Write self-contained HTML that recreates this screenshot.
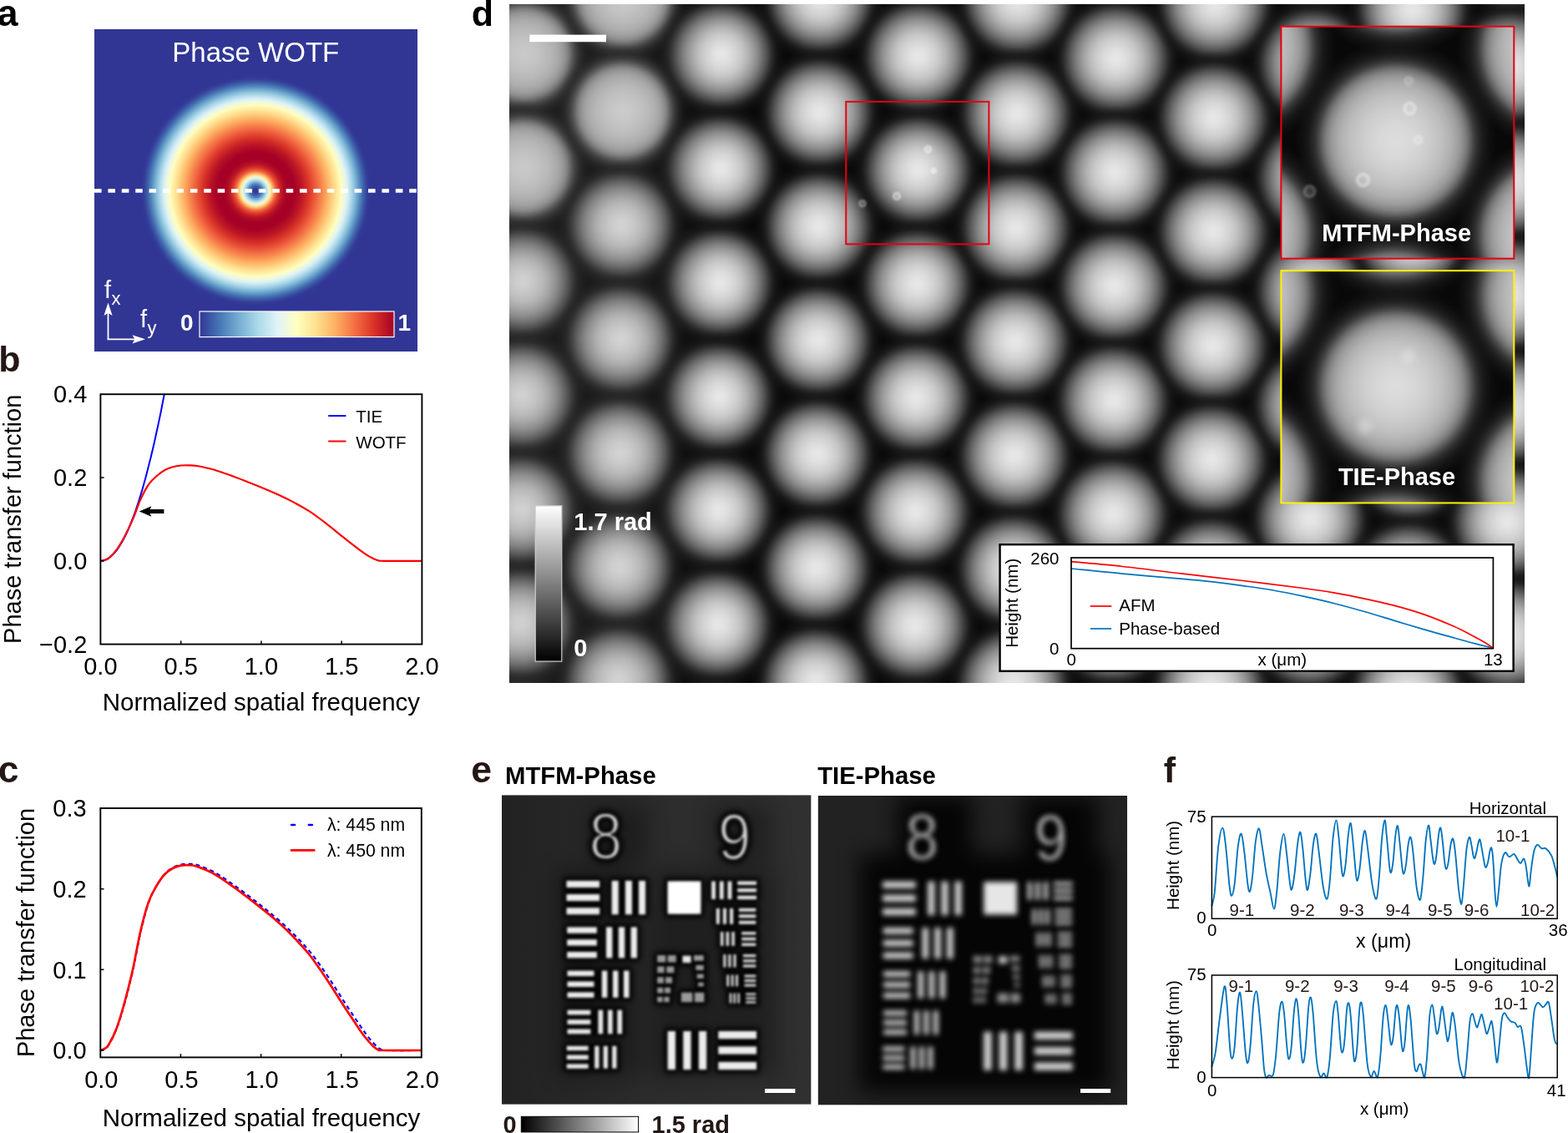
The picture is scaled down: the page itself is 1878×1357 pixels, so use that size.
<!DOCTYPE html>
<html lang="en"><head><meta charset="utf-8"><title>Figure</title>
<style>
html,body{margin:0;padding:0;background:#fff;}
body{width:1878px;height:1357px;overflow:hidden;}
svg{display:block;font-family:'Liberation Sans', sans-serif;}
</style></head><body>
<svg width="1878" height="1357" viewBox="0 0 1878 1357">
<defs>
<radialGradient id="gA" gradientUnits="userSpaceOnUse" cx="306.2" cy="228.5" r="142.0"><stop offset="0.0000" stop-color="#313695"/><stop offset="0.0185" stop-color="#34409a"/><stop offset="0.0370" stop-color="#3d5ba7"/><stop offset="0.0556" stop-color="#4f80ba"/><stop offset="0.0741" stop-color="#7cb3d4"/><stop offset="0.0926" stop-color="#b6deec"/><stop offset="0.1111" stop-color="#ecf8e1"/><stop offset="0.1296" stop-color="#fee598"/><stop offset="0.1481" stop-color="#fcaa5f"/><stop offset="0.1667" stop-color="#f26841"/><stop offset="0.1852" stop-color="#e14430"/><stop offset="0.2037" stop-color="#cf2927"/><stop offset="0.2222" stop-color="#bc1626"/><stop offset="0.2407" stop-color="#b10b26"/><stop offset="0.2593" stop-color="#a90426"/><stop offset="0.2778" stop-color="#a50026"/><stop offset="0.2963" stop-color="#a50026"/><stop offset="0.3148" stop-color="#a50026"/><stop offset="0.3333" stop-color="#a80326"/><stop offset="0.3519" stop-color="#ae0926"/><stop offset="0.3704" stop-color="#b50f26"/><stop offset="0.3889" stop-color="#bb1626"/><stop offset="0.4074" stop-color="#c51f27"/><stop offset="0.4259" stop-color="#cf2827"/><stop offset="0.4444" stop-color="#d83228"/><stop offset="0.4630" stop-color="#de3f2e"/><stop offset="0.4815" stop-color="#e44c34"/><stop offset="0.5000" stop-color="#ea593a"/><stop offset="0.5185" stop-color="#f16740"/><stop offset="0.5370" stop-color="#f57547"/><stop offset="0.5556" stop-color="#f7844e"/><stop offset="0.5741" stop-color="#f99455"/><stop offset="0.5926" stop-color="#fca45c"/><stop offset="0.6111" stop-color="#fdb365"/><stop offset="0.6296" stop-color="#fdc173"/><stop offset="0.6481" stop-color="#fecf80"/><stop offset="0.6667" stop-color="#fedd8d"/><stop offset="0.6852" stop-color="#fee89d"/><stop offset="0.7037" stop-color="#fff2ac"/><stop offset="0.7222" stop-color="#fffdbc"/><stop offset="0.7407" stop-color="#f4fbd3"/><stop offset="0.7593" stop-color="#e7f6eb"/><stop offset="0.7778" stop-color="#d6eef5"/><stop offset="0.7963" stop-color="#bee2ee"/><stop offset="0.8148" stop-color="#a5d4e7"/><stop offset="0.8333" stop-color="#8dc1dc"/><stop offset="0.8519" stop-color="#74add1"/><stop offset="0.8704" stop-color="#6095c4"/><stop offset="0.8889" stop-color="#4b7db8"/><stop offset="0.9074" stop-color="#4064ac"/><stop offset="0.9259" stop-color="#394fa1"/><stop offset="0.9444" stop-color="#343e99"/><stop offset="0.9630" stop-color="#313795"/><stop offset="0.9815" stop-color="#313695"/><stop offset="1.0000" stop-color="#313695"/></radialGradient>
<linearGradient id="gAcb" x1="0" y1="0" x2="1" y2="0"><stop offset="0.0" stop-color="#313695"/><stop offset="0.1" stop-color="#4575b4"/><stop offset="0.2" stop-color="#74add1"/><stop offset="0.3" stop-color="#abd9e9"/><stop offset="0.4" stop-color="#e0f3f8"/><stop offset="0.5" stop-color="#ffffbf"/><stop offset="0.6" stop-color="#fee090"/><stop offset="0.7" stop-color="#fdae61"/><stop offset="0.8" stop-color="#f46d43"/><stop offset="0.9" stop-color="#d73027"/><stop offset="1.0" stop-color="#a50026"/></linearGradient>
<clipPath id="clipB"><rect x="120.4" y="472.2" width="385.0" height="299.40000000000003"/></clipPath>
<radialGradient id="gL" cx="0.5" cy="0.5" r="0.5"><stop offset="0.0000" stop-color="rgb(231,231,231)" stop-opacity="1"/><stop offset="0.0769" stop-color="rgb(228,228,228)" stop-opacity="1"/><stop offset="0.1538" stop-color="rgb(221,221,221)" stop-opacity="1"/><stop offset="0.2308" stop-color="rgb(212,212,212)" stop-opacity="1"/><stop offset="0.3205" stop-color="rgb(199,199,199)" stop-opacity="1"/><stop offset="0.4103" stop-color="rgb(180,180,180)" stop-opacity="1"/><stop offset="0.5128" stop-color="rgb(152,152,152)" stop-opacity="1"/><stop offset="0.5641" stop-color="rgb(135,135,135)" stop-opacity="1"/><stop offset="0.6103" stop-color="rgb(118,118,118)" stop-opacity="1"/><stop offset="0.6538" stop-color="rgb(100,100,100)" stop-opacity="1"/><stop offset="0.7051" stop-color="rgb(78,78,78)" stop-opacity="1"/><stop offset="0.7436" stop-color="rgb(60,60,60)" stop-opacity="1"/><stop offset="0.7756" stop-color="rgb(47,47,47)" stop-opacity="1"/><stop offset="0.8077" stop-color="rgb(37,37,37)" stop-opacity="0.92"/><stop offset="0.8462" stop-color="rgb(31,31,31)" stop-opacity="0.7"/><stop offset="0.8974" stop-color="rgb(30,30,30)" stop-opacity="0.36"/><stop offset="0.9487" stop-color="rgb(30,30,30)" stop-opacity="0.15"/><stop offset="1.0000" stop-color="rgb(30,30,30)" stop-opacity="0"/></radialGradient>
<radialGradient id="gLf" cx="0.5" cy="0.5" r="0.5"><stop offset="0.0000" stop-color="rgb(222,222,222)" stop-opacity="1"/><stop offset="0.1282" stop-color="rgb(218,218,218)" stop-opacity="1"/><stop offset="0.2564" stop-color="rgb(210,210,210)" stop-opacity="1"/><stop offset="0.3846" stop-color="rgb(199,199,199)" stop-opacity="1"/><stop offset="0.4872" stop-color="rgb(186,186,186)" stop-opacity="1"/><stop offset="0.5641" stop-color="rgb(170,170,170)" stop-opacity="1"/><stop offset="0.6154" stop-color="rgb(153,153,153)" stop-opacity="1"/><stop offset="0.6603" stop-color="rgb(131,131,131)" stop-opacity="1"/><stop offset="0.6987" stop-color="rgb(104,104,104)" stop-opacity="1"/><stop offset="0.7308" stop-color="rgb(82,82,82)" stop-opacity="1"/><stop offset="0.7628" stop-color="rgb(62,62,62)" stop-opacity="1"/><stop offset="0.7949" stop-color="rgb(47,47,47)" stop-opacity="1"/><stop offset="0.8269" stop-color="rgb(38,38,38)" stop-opacity="0.9"/><stop offset="0.8590" stop-color="rgb(34,34,34)" stop-opacity="0.7"/><stop offset="0.8974" stop-color="rgb(32,32,32)" stop-opacity="0.4"/><stop offset="0.9487" stop-color="rgb(32,32,32)" stop-opacity="0.15"/><stop offset="1.0000" stop-color="rgb(32,32,32)" stop-opacity="0"/></radialGradient>
<g id="lat" fill="url(#gL)"><circle cx="628.4" cy="-72.1" r="80.3" fill="url(#gLf)"/><circle cx="627.5" cy="64.3" r="80.3" fill="url(#gLf)"/><circle cx="626.6" cy="200.7" r="80.3" fill="url(#gLf)"/><circle cx="625.7" cy="337.1" r="78.0"/><circle cx="624.8" cy="473.5" r="78.0"/><circle cx="623.9" cy="609.9" r="78.0"/><circle cx="623.1" cy="746.3" r="78.0"/><circle cx="622.2" cy="882.7" r="78.0"/><circle cx="746.1" cy="-3.2" r="80.3" fill="url(#gLf)"/><circle cx="745.2" cy="133.2" r="80.3" fill="url(#gLf)"/><circle cx="744.3" cy="269.6" r="78.0"/><circle cx="743.4" cy="406.0" r="78.0"/><circle cx="742.5" cy="542.4" r="78.0"/><circle cx="741.7" cy="678.8" r="78.0"/><circle cx="740.8" cy="815.2" r="78.0"/><circle cx="864.7" cy="-70.7" r="78.0"/><circle cx="863.8" cy="65.7" r="78.0"/><circle cx="862.9" cy="202.1" r="78.0"/><circle cx="862.0" cy="338.5" r="78.0"/><circle cx="861.1" cy="474.9" r="78.0"/><circle cx="860.2" cy="611.3" r="78.0"/><circle cx="859.4" cy="747.7" r="78.0"/><circle cx="858.5" cy="884.1" r="78.0"/><circle cx="982.4" cy="-1.8" r="78.5"/><circle cx="981.5" cy="134.6" r="78.5"/><circle cx="980.6" cy="271.0" r="78.5"/><circle cx="979.7" cy="407.4" r="78.5"/><circle cx="978.8" cy="543.8" r="78.5"/><circle cx="978.0" cy="680.2" r="78.5"/><circle cx="977.1" cy="816.6" r="78.5"/><circle cx="1101.0" cy="-69.3" r="79.2"/><circle cx="1100.1" cy="67.1" r="79.2"/><circle cx="1099.2" cy="203.5" r="79.2"/><circle cx="1098.3" cy="339.9" r="79.2"/><circle cx="1097.4" cy="476.3" r="79.2"/><circle cx="1096.5" cy="612.7" r="79.1"/><circle cx="1095.7" cy="749.1" r="79.1"/><circle cx="1094.8" cy="885.5" r="79.1"/><circle cx="1218.7" cy="0.0" r="79.9"/><circle cx="1217.8" cy="136.4" r="79.9"/><circle cx="1216.9" cy="272.8" r="79.9"/><circle cx="1216.0" cy="409.2" r="79.8"/><circle cx="1215.1" cy="545.6" r="79.8"/><circle cx="1214.3" cy="682.0" r="79.8"/><circle cx="1213.4" cy="818.4" r="79.8"/><circle cx="1337.3" cy="-66.3" r="80.3"/><circle cx="1336.4" cy="70.1" r="80.3"/><circle cx="1335.5" cy="206.5" r="80.3"/><circle cx="1334.6" cy="342.9" r="80.3"/><circle cx="1333.7" cy="479.3" r="80.3"/><circle cx="1332.8" cy="615.7" r="80.3"/><circle cx="1332.0" cy="752.1" r="80.3"/><circle cx="1331.1" cy="888.5" r="80.3"/><circle cx="1455.0" cy="4.5" r="80.3"/><circle cx="1454.1" cy="140.9" r="80.3"/><circle cx="1453.2" cy="277.3" r="80.3"/><circle cx="1452.3" cy="413.7" r="80.3"/><circle cx="1451.4" cy="550.1" r="80.3"/><circle cx="1450.6" cy="686.5" r="80.3"/><circle cx="1449.7" cy="822.9" r="80.3"/><circle cx="1573.6" cy="-60.3" r="80.3"/><circle cx="1572.7" cy="76.1" r="80.3"/><circle cx="1571.8" cy="212.5" r="80.3"/><circle cx="1570.9" cy="348.9" r="80.3"/><circle cx="1570.0" cy="485.3" r="80.3"/><circle cx="1569.1" cy="621.7" r="80.3"/><circle cx="1568.3" cy="758.1" r="80.3"/><circle cx="1567.4" cy="894.5" r="80.3"/><circle cx="1691.3" cy="10.5" r="80.3"/><circle cx="1690.4" cy="146.9" r="80.3"/><circle cx="1689.5" cy="283.3" r="80.3"/><circle cx="1688.6" cy="419.7" r="80.3"/><circle cx="1687.7" cy="556.1" r="80.3"/><circle cx="1686.9" cy="692.5" r="80.3"/><circle cx="1686.0" cy="828.9" r="80.3"/><circle cx="1809.9" cy="-57.0" r="80.3"/><circle cx="1809.0" cy="79.4" r="80.3"/><circle cx="1808.1" cy="215.8" r="80.3"/><circle cx="1807.2" cy="352.2" r="80.3"/><circle cx="1806.3" cy="488.6" r="80.3"/><circle cx="1805.4" cy="625.0" r="80.3"/><circle cx="1804.6" cy="761.4" r="80.3"/><circle cx="1803.7" cy="897.8" r="80.3"/></g>
<radialGradient id="gL2" cx="0.5" cy="0.5" r="0.5"><stop offset="0.0000" stop-color="rgb(221,221,221)" stop-opacity="1"/><stop offset="0.1576" stop-color="rgb(216,216,216)" stop-opacity="1"/><stop offset="0.3152" stop-color="rgb(204,204,204)" stop-opacity="1"/><stop offset="0.4334" stop-color="rgb(191,191,191)" stop-opacity="1"/><stop offset="0.5279" stop-color="rgb(175,175,175)" stop-opacity="1"/><stop offset="0.5989" stop-color="rgb(155,155,155)" stop-opacity="1"/><stop offset="0.6540" stop-color="rgb(129,129,129)" stop-opacity="1"/><stop offset="0.6934" stop-color="rgb(101,101,101)" stop-opacity="1"/><stop offset="0.7249" stop-color="rgb(74,74,74)" stop-opacity="1"/><stop offset="0.7565" stop-color="rgb(52,52,52)" stop-opacity="1"/><stop offset="0.7880" stop-color="rgb(38,38,38)" stop-opacity="1"/><stop offset="0.8274" stop-color="rgb(29,29,29)" stop-opacity="0.8"/><stop offset="0.8825" stop-color="rgb(27,27,27)" stop-opacity="0.4"/><stop offset="0.9456" stop-color="rgb(27,27,27)" stop-opacity="0"/><stop offset="1" stop-color="rgb(30,30,30)" stop-opacity="0"/></radialGradient>
<g id="lat2" fill="url(#gL2)"><circle cx="982.4" cy="-1.8" r="78.0"/><circle cx="981.5" cy="134.6" r="78.0"/><circle cx="980.6" cy="271.0" r="78.0"/><circle cx="979.7" cy="407.4" r="78.0"/><circle cx="1100.1" cy="67.1" r="78.0"/><circle cx="1099.2" cy="203.5" r="78.0"/><circle cx="1098.3" cy="339.9" r="78.0"/><circle cx="1218.7" cy="0.0" r="78.0"/><circle cx="1217.8" cy="136.4" r="78.0"/><circle cx="1216.9" cy="272.8" r="78.0"/><circle cx="1216.0" cy="409.2" r="78.0"/></g>
<clipPath id="clipD"><rect x="610" y="5" width="1216" height="813"/></clipPath>
<linearGradient id="gLeft" gradientUnits="userSpaceOnUse" x1="610" y1="0" x2="860" y2="0"><stop offset="0" stop-color="rgb(112,112,112)" stop-opacity="0.19"/><stop offset="0.62" stop-color="rgb(112,112,112)" stop-opacity="0.17"/><stop offset="1" stop-color="rgb(112,112,112)" stop-opacity="0"/></linearGradient>
<filter color-interpolation-filters="sRGB" id="bSp" x="-50%" y="-50%" width="200%" height="200%"><feGaussianBlur stdDeviation="0.8"/></filter>
<filter color-interpolation-filters="sRGB" id="bSp3" x="-50%" y="-50%" width="200%" height="200%"><feGaussianBlur stdDeviation="1.5"/></filter>
<filter color-interpolation-filters="sRGB" id="bSp2" x="-100%" y="-100%" width="300%" height="300%"><feGaussianBlur stdDeviation="4"/></filter>
<clipPath id="clipI1"><rect x="1534.4" y="31.7" width="278.89999999999986" height="278.0"/></clipPath>
<clipPath id="clipI2"><rect x="1534.4" y="324.2" width="278.89999999999986" height="278.2"/></clipPath>
<filter color-interpolation-filters="sRGB" id="blurTIE" filterUnits="userSpaceOnUse" x="1504.4" y="294.2" width="338.89999999999986" height="338.2"><feGaussianBlur stdDeviation="3"/></filter>
<linearGradient id="gDcb" x1="0" y1="0" x2="0" y2="1"><stop offset="0" stop-color="#fff"/><stop offset="1" stop-color="#000"/></linearGradient>
<g id="usaf"><g fill="#ececec"><rect x="77.5" y="102.7" width="39.7" height="8.1"/><rect x="77.5" y="118.8" width="39.7" height="8.1"/><rect x="77.5" y="135.0" width="39.7" height="8.1"/><rect x="131.7" y="102.7" width="8.1" height="40.4"/><rect x="147.9" y="102.7" width="8.1" height="40.4"/><rect x="164.0" y="102.7" width="8.1" height="40.4"/><rect x="78.2" y="158.2" width="35.7" height="7.4"/><rect x="78.2" y="173.0" width="35.7" height="7.4"/><rect x="78.2" y="187.8" width="35.7" height="7.4"/><rect x="125.0" y="158.2" width="7.4" height="37.0"/><rect x="139.8" y="158.2" width="7.4" height="37.0"/><rect x="154.6" y="158.2" width="7.4" height="37.0"/><rect x="78.5" y="210.4" width="32.0" height="6.5"/><rect x="78.5" y="223.3" width="32.0" height="6.5"/><rect x="78.5" y="236.2" width="32.0" height="6.5"/><rect x="119.9" y="210.4" width="6.5" height="32.3"/><rect x="133.0" y="210.4" width="6.5" height="32.3"/><rect x="146.0" y="210.4" width="6.5" height="32.3"/><rect x="78.5" y="257.5" width="27.9" height="5.7"/><rect x="78.5" y="269.0" width="27.9" height="5.7"/><rect x="78.5" y="280.4" width="27.9" height="5.7"/><rect x="115.5" y="257.5" width="5.7" height="28.6"/><rect x="127.0" y="257.5" width="5.7" height="28.6"/><rect x="138.4" y="257.5" width="5.7" height="28.6"/><rect x="77.8" y="300.6" width="25.9" height="5.4"/><rect x="77.8" y="311.4" width="25.9" height="5.4"/><rect x="77.8" y="322.2" width="25.9" height="5.4"/><rect x="111.2" y="300.6" width="5.3" height="26.9"/><rect x="121.7" y="300.6" width="5.3" height="26.9"/><rect x="132.2" y="300.6" width="5.3" height="26.9"/><rect x="198.7" y="282.8" width="9.3" height="46.1"/><rect x="217.3" y="282.8" width="9.3" height="46.1"/><rect x="235.9" y="282.8" width="9.3" height="46.1"/><rect x="259.3" y="282.8" width="45.8" height="9.2"/><rect x="259.3" y="301.2" width="45.8" height="9.2"/><rect x="259.3" y="319.7" width="45.8" height="9.2"/><rect x="251.2" y="103.3" width="4.8" height="21.5"/><rect x="260.9" y="103.3" width="4.8" height="21.5"/><rect x="270.6" y="103.3" width="4.8" height="21.5"/><rect x="282.2" y="103.3" width="22.9" height="4.3"/><rect x="282.2" y="111.9" width="22.9" height="4.3"/><rect x="282.2" y="120.6" width="22.9" height="4.3"/><rect x="256.9" y="135.7" width="4.0" height="18.9"/><rect x="265.0" y="135.7" width="4.0" height="18.9"/><rect x="273.1" y="135.7" width="4.0" height="18.9"/><rect x="283.9" y="135.7" width="20.5" height="3.8"/><rect x="283.9" y="143.2" width="20.5" height="3.8"/><rect x="283.9" y="150.7" width="20.5" height="3.8"/><rect x="262.0" y="163.9" width="3.4" height="16.8"/><rect x="268.7" y="163.9" width="3.4" height="16.8"/><rect x="275.4" y="163.9" width="3.4" height="16.8"/><rect x="287.2" y="163.9" width="17.2" height="3.4"/><rect x="287.2" y="170.7" width="17.2" height="3.4"/><rect x="287.2" y="177.4" width="17.2" height="3.4"/><rect x="265.4" y="190.9" width="3.0" height="15.5"/><rect x="271.4" y="190.9" width="3.0" height="15.5"/><rect x="277.5" y="190.9" width="3.0" height="15.5"/><rect x="288.9" y="190.9" width="15.5" height="3.1"/><rect x="288.9" y="197.1" width="15.5" height="3.1"/><rect x="288.9" y="203.2" width="15.5" height="3.1"/><rect x="269.4" y="215.4" width="2.7" height="13.8"/><rect x="274.8" y="215.4" width="2.7" height="13.8"/><rect x="280.2" y="215.4" width="2.7" height="13.8"/><rect x="290.6" y="215.4" width="13.8" height="2.8"/><rect x="290.6" y="221.0" width="13.8" height="2.8"/><rect x="290.6" y="226.5" width="13.8" height="2.8"/><rect x="272.8" y="237.3" width="2.4" height="12.1"/><rect x="277.6" y="237.3" width="2.4" height="12.1"/><rect x="282.5" y="237.3" width="2.4" height="12.1"/><rect x="292.3" y="237.3" width="12.1" height="2.4"/><rect x="292.3" y="242.2" width="12.1" height="2.4"/><rect x="292.3" y="247.0" width="12.1" height="2.4"/></g><g fill="#9a9a9a"><rect x="186.2" y="191.9" width="10.1" height="8.4"/><rect x="198.7" y="191.9" width="10.1" height="8.4"/><rect x="186.2" y="205.3" width="8.4" height="7.7"/><rect x="197.3" y="205.3" width="9.1" height="7.7"/><rect x="186.2" y="218.1" width="7.7" height="7.4"/><rect x="196.0" y="218.1" width="8.1" height="7.4"/><rect x="186.2" y="230.6" width="7.1" height="6.7"/><rect x="195.0" y="230.6" width="7.1" height="6.7"/><rect x="186.2" y="241.7" width="6.4" height="6.4"/><rect x="194.3" y="241.7" width="6.4" height="6.4"/><rect x="230.0" y="191.9" width="11.8" height="6.7"/><rect x="232.4" y="203.7" width="9.4" height="6.1"/><rect x="233.7" y="214.4" width="8.1" height="5.4"/><rect x="235.1" y="224.5" width="6.7" height="4.7"/><rect x="214.9" y="236.6" width="13.5" height="11.4"/><rect x="231.0" y="236.6" width="11.4" height="11.4"/></g><rect x="216.5" y="192.5" width="10.1" height="8.4" fill="#e8e8e8"/><rect x="198.7" y="103.3" width="39.7" height="39.1" fill="#ffffff"/></g>
<g id="usafn"><text x="124.6" y="75.7" font-size="78" text-anchor="middle" textLength="39" lengthAdjust="spacingAndGlyphs">8</text><text x="278.8" y="77.1" font-size="78" text-anchor="middle" textLength="39" lengthAdjust="spacingAndGlyphs">9</text></g>
<filter color-interpolation-filters="sRGB" id="bE1" filterUnits="userSpaceOnUse" x="-40" y="-40" width="450" height="450"><feGaussianBlur stdDeviation="1.5"/></filter>
<filter color-interpolation-filters="sRGB" id="bE2" filterUnits="userSpaceOnUse" x="-40" y="-40" width="450" height="450"><feGaussianBlur stdDeviation="3.4"/></filter>
<filter color-interpolation-filters="sRGB" id="bE3" filterUnits="userSpaceOnUse" x="-40" y="-40" width="450" height="450"><feGaussianBlur stdDeviation="3"/></filter>
<filter color-interpolation-filters="sRGB" id="bHalo" filterUnits="userSpaceOnUse" x="-80" y="-80" width="530" height="530"><feGaussianBlur stdDeviation="13"/></filter>
<clipPath id="clipE"><rect x="0" y="0" width="370.6" height="370.6"/></clipPath>
<linearGradient id="gEbg" x1="0" y1="0" x2="1" y2="0"><stop offset="0" stop-color="#222"/><stop offset="0.5" stop-color="#2c2c2c"/><stop offset="1" stop-color="#303030"/></linearGradient>
<linearGradient id="gEcb" x1="0" y1="0" x2="1" y2="0"><stop offset="0" stop-color="#000"/><stop offset="1" stop-color="#fff"/></linearGradient>
</defs>
<g id="panel-a">
<text x="-3.30" y="30.50" font-size="44.5" font-weight="bold" fill="#000">a</text>
<rect x="113" y="35" width="387" height="386" fill="#313695"/>
<circle cx="306.2" cy="228.5" r="142.0" fill="url(#gA)"/>
<line x1="113" y1="228.5" x2="500" y2="228.5" stroke="#fff" stroke-width="4.6" stroke-dasharray="8.6 7.8"/>
<text x="306.30" y="74.00" font-size="33" text-anchor="middle" fill="#fff">Phase WOTF</text>
<rect x="239" y="373" width="233" height="30.6" fill="url(#gAcb)" stroke="#fff" stroke-width="1.2"/>
<text x="216.00" y="396.00" font-size="28" font-weight="bold" fill="#fff">0</text>
<text x="476.50" y="396.00" font-size="28" font-weight="bold" fill="#fff">1</text>
<path d="M129.5,406.3 V372" stroke="#fff" stroke-width="1.8" fill="none"/>
<path d="M128.6,406.3 H163" stroke="#fff" stroke-width="1.8" fill="none"/>
<path d="M129.5,362.5 L134.6,378 L129.5,375 L124.4,378 Z" fill="#fff"/>
<path d="M174,406.3 L158.5,411.4 L161.5,406.3 L158.5,401.2 Z" fill="#fff"/>
<text x="125.00" y="357.00" font-size="29" fill="#fff">f</text>
<text x="133.50" y="365.00" font-size="22" fill="#fff">x</text>
<text x="168.00" y="391.50" font-size="29" fill="#fff">f</text>
<text x="176.50" y="400.00" font-size="22" fill="#fff">y</text>
</g>
<g id="panel-b">
<text x="-1.70" y="444.50" font-size="43" font-weight="bold" fill="#231815">b</text>
<path d="M120.4,671.8L122.5,671.7L124.5,671.2L126.6,670.5L128.7,669.4L130.8,668.1L132.8,666.5L134.9,664.6L137.0,662.4L139.1,659.9L141.1,657.1L143.2,654.0L145.3,650.6L147.3,647.0L149.4,643.0L151.5,638.7L153.6,634.2L155.6,629.3L157.7,624.2L159.8,618.7L161.9,613.0L163.9,607.0L166.0,600.7L168.1,594.0L170.2,587.1L172.2,579.9L174.3,572.4L176.4,564.6L178.4,556.6L180.5,548.2L182.6,539.5L184.7,530.5L186.7,521.3L188.8,511.7L190.9,501.9L193.0,491.7L195.0,481.3L197.1,470.6L199.2,459.5L201.2,448.2" fill="none" stroke="#0000ff" stroke-width="2" clip-path="url(#clipB)"/>
<path d="M120.4,671.8C121.2,671.6 123.6,671.3 125.2,670.8C126.8,670.3 127.6,670.6 130.0,668.6C132.4,666.5 136.4,662.7 139.7,658.3C142.9,654.0 146.1,648.3 149.3,642.4C152.5,636.4 155.7,629.8 158.9,622.4C162.1,615.0 165.3,605.0 168.5,597.9C171.7,590.9 174.9,584.6 178.2,580.0C181.4,575.3 184.6,572.8 187.8,570.0C191.0,567.2 194.2,564.8 197.4,563.0C200.6,561.2 203.8,560.2 207.0,559.3C210.2,558.4 213.4,557.9 216.7,557.5C219.9,557.2 223.1,557.2 226.3,557.3C229.5,557.4 231.1,557.2 235.9,558.0C240.7,558.9 248.7,560.5 255.2,562.3C261.6,564.1 268.0,566.5 274.4,568.8C280.8,571.0 287.2,573.5 293.6,576.0C300.1,578.5 306.5,581.1 312.9,583.7C319.3,586.4 325.7,589.0 332.2,592.0C338.6,594.9 345.0,598.0 351.4,601.4C357.8,604.9 364.2,608.3 370.6,612.4C377.1,616.6 383.5,621.5 389.9,626.4C396.3,631.3 402.7,636.8 409.1,641.9C415.6,646.9 423.6,653.2 428.4,656.8C433.2,660.5 434.8,661.7 438.0,663.8C441.2,665.9 445.1,668.0 447.6,669.3C450.2,670.6 451.5,671.0 453.4,671.4C455.3,671.8 450.5,671.7 459.2,671.8C467.9,671.9 497.7,671.8 505.4,671.8" fill="none" stroke="#ff0000" stroke-width="2.2" stroke-linejoin="round" clip-path="url(#clipB)"/>
<rect x="120.4" y="472.2" width="385.0" height="299.40000000000003" fill="none" stroke="#000" stroke-width="1.9"/>
<line x1="216.7" y1="771.6" x2="216.7" y2="767.4" stroke="#000" stroke-width="1.5"/>
<line x1="312.9" y1="771.6" x2="312.9" y2="767.4" stroke="#000" stroke-width="1.5"/>
<line x1="409.1" y1="771.6" x2="409.1" y2="767.4" stroke="#000" stroke-width="1.5"/>
<line x1="120.4" y1="671.8" x2="124.60000000000001" y2="671.8" stroke="#000" stroke-width="1.5"/>
<line x1="120.4" y1="572.0" x2="124.60000000000001" y2="572.0" stroke="#000" stroke-width="1.5"/>
<text x="104.30" y="482.40" font-size="29" text-anchor="end" fill="#000">0.4</text>
<text x="104.30" y="582.20" font-size="29" text-anchor="end" fill="#000">0.2</text>
<text x="104.30" y="682.00" font-size="29" text-anchor="end" fill="#000">0.0</text>
<text x="104.30" y="781.80" font-size="29" text-anchor="end" fill="#000">−0.2</text>
<text x="120.40" y="807.60" font-size="29" text-anchor="middle" fill="#000">0.0</text>
<text x="216.65" y="807.60" font-size="29" text-anchor="middle" fill="#000">0.5</text>
<text x="312.90" y="807.60" font-size="29" text-anchor="middle" fill="#000">1.0</text>
<text x="409.15" y="807.60" font-size="29" text-anchor="middle" fill="#000">1.5</text>
<text x="505.40" y="807.60" font-size="29" text-anchor="middle" fill="#000">2.0</text>
<text x="312.90" y="850.60" font-size="29.5" text-anchor="middle" fill="#000">Normalized spatial frequency</text>
<text x="24.80" y="621.80" font-size="29" text-anchor="middle" fill="#000" transform="rotate(-90 24.80 621.80)">Phase transfer function</text>
<line x1="393.2" y1="498" x2="414.4" y2="498" stroke="#0000ff" stroke-width="2"/>
<text x="426.30" y="505.60" font-size="20.5" fill="#000">TIE</text>
<line x1="393.2" y1="528.5" x2="414.4" y2="528.5" stroke="#ff0000" stroke-width="2"/>
<text x="426.30" y="536.60" font-size="20.5" fill="#000">WOTF</text>
<path d="M196.4,610 H179.6 L181.4,606.2 L166.8,612.5 L181.4,618.8 L179.6,615 H196.4 Z" fill="#000"/>
</g>
<g id="panel-c">
<text x="-2.20" y="937.20" font-size="44.5" font-weight="bold" fill="#231815">c</text>
<path d="M120.3,1258.0C121.1,1257.7 123.5,1257.1 125.2,1256.1C126.8,1255.0 127.6,1255.7 130.0,1251.7C132.5,1247.6 136.5,1240.3 139.8,1231.7C143.0,1223.2 146.2,1212.3 149.5,1200.6C152.7,1189.0 156.0,1176.2 159.2,1161.7C162.5,1147.3 165.7,1127.9 168.9,1114.1C172.2,1100.3 175.4,1088.1 178.7,1079.1C181.9,1070.0 185.2,1065.1 188.4,1059.6C191.6,1054.1 194.9,1049.5 198.1,1046.0C201.4,1042.5 204.6,1040.5 207.9,1038.7C211.1,1036.9 214.3,1036.0 217.6,1035.3C220.8,1034.7 224.1,1034.7 227.3,1034.8C230.5,1035.0 232.2,1034.7 237.0,1036.3C241.9,1037.9 250.0,1041.1 256.5,1044.5C263.0,1048.0 269.5,1052.7 275.9,1057.2C282.4,1061.6 288.9,1066.4 295.4,1071.3C301.9,1076.1 308.4,1081.2 314.9,1086.4C321.3,1091.5 327.8,1096.7 334.3,1102.4C340.8,1108.2 347.3,1114.2 353.8,1120.9C360.3,1127.5 366.7,1134.2 373.2,1142.3C379.7,1150.4 386.2,1159.9 392.7,1169.5C399.2,1179.1 405.7,1189.8 412.1,1199.7C418.6,1209.5 426.7,1221.7 431.6,1228.8C436.5,1236.0 438.1,1238.4 441.3,1242.4C444.6,1246.5 448.5,1250.7 451.0,1253.1C453.6,1255.6 454.9,1256.4 456.9,1257.2C458.8,1258.0 454.7,1257.9 462.7,1258.0C470.7,1258.1 497.8,1258.0 504.8,1258.0" fill="none" stroke="#0000ff" stroke-width="2.2" stroke-dasharray="5 4"/>
<path d="M120.3,1258.0C121.1,1257.7 123.5,1257.1 125.1,1256.1C126.7,1255.0 127.5,1255.7 129.9,1251.7C132.3,1247.7 136.3,1240.4 139.5,1231.9C142.7,1223.4 145.9,1212.6 149.1,1201.0C152.3,1189.4 155.5,1176.6 158.8,1162.3C162.0,1148.0 165.2,1128.6 168.4,1114.9C171.6,1101.2 174.8,1089.2 178.0,1080.1C181.2,1071.1 184.4,1066.3 187.6,1060.8C190.8,1055.3 194.0,1050.7 197.2,1047.3C200.4,1043.8 203.6,1041.8 206.8,1040.0C210.0,1038.2 213.2,1037.3 216.4,1036.6C219.6,1036.0 222.8,1036.0 226.0,1036.2C229.2,1036.3 230.8,1036.0 235.6,1037.6C240.5,1039.2 248.5,1042.4 254.9,1045.8C261.3,1049.3 267.7,1054.0 274.1,1058.4C280.5,1062.8 286.9,1067.6 293.3,1072.4C299.7,1077.2 306.1,1082.2 312.6,1087.4C319.0,1092.5 325.4,1097.6 331.8,1103.3C338.2,1109.1 344.6,1115.1 351.0,1121.7C357.4,1128.3 363.8,1134.9 370.2,1143.0C376.6,1151.0 383.0,1160.5 389.4,1170.0C395.9,1179.5 402.3,1190.2 408.7,1200.0C415.1,1209.8 423.1,1221.9 427.9,1229.0C432.7,1236.1 434.3,1238.5 437.5,1242.5C440.7,1246.6 444.6,1250.7 447.1,1253.2C449.7,1255.6 451.0,1256.4 452.9,1257.2C454.8,1258.0 450.0,1257.9 458.7,1258.0C467.3,1258.1 497.1,1258.0 504.8,1258.0" fill="none" stroke="#ff0000" stroke-width="2.7" stroke-linejoin="round"/>
<rect x="120.3" y="968.0" width="384.5" height="298.4000000000001" fill="none" stroke="#000" stroke-width="1.9"/>
<line x1="216.4" y1="1266.4" x2="216.4" y2="1262.2" stroke="#000" stroke-width="1.5"/>
<line x1="312.6" y1="1266.4" x2="312.6" y2="1262.2" stroke="#000" stroke-width="1.5"/>
<line x1="408.7" y1="1266.4" x2="408.7" y2="1262.2" stroke="#000" stroke-width="1.5"/>
<line x1="120.3" y1="1258.0" x2="124.5" y2="1258.0" stroke="#000" stroke-width="1.5"/>
<line x1="120.3" y1="1161.3" x2="124.5" y2="1161.3" stroke="#000" stroke-width="1.5"/>
<line x1="120.3" y1="1064.7" x2="124.5" y2="1064.7" stroke="#000" stroke-width="1.5"/>
<text x="103.60" y="1268.20" font-size="29" text-anchor="end" fill="#000">0.0</text>
<text x="103.60" y="1171.53" font-size="29" text-anchor="end" fill="#000">0.1</text>
<text x="103.60" y="1074.87" font-size="29" text-anchor="end" fill="#000">0.2</text>
<text x="103.60" y="978.20" font-size="29" text-anchor="end" fill="#000">0.3</text>
<text x="121.30" y="1303.00" font-size="29" text-anchor="middle" fill="#000">0.0</text>
<text x="217.43" y="1303.00" font-size="29" text-anchor="middle" fill="#000">0.5</text>
<text x="313.55" y="1303.00" font-size="29" text-anchor="middle" fill="#000">1.0</text>
<text x="409.68" y="1303.00" font-size="29" text-anchor="middle" fill="#000">1.5</text>
<text x="505.80" y="1303.00" font-size="29" text-anchor="middle" fill="#000">2.0</text>
<text x="313.00" y="1348.80" font-size="29.5" text-anchor="middle" fill="#000">Normalized spatial frequency</text>
<text x="40.50" y="1117.00" font-size="29" text-anchor="middle" fill="#000" transform="rotate(-90 40.50 1117.00)">Phase transfer function</text>
<line x1="348.9" y1="988.0" x2="375.0" y2="988.0" stroke="#0000ff" stroke-width="2.3" stroke-linecap="round" stroke-dasharray="4.3 16.5"/>
<text x="392.00" y="995.30" font-size="21.2" fill="#000">λ: 445 nm</text>
<line x1="349.0" y1="1018.4" x2="376.3" y2="1018.4" stroke="#ff0000" stroke-width="2.7" stroke-linecap="round"/>
<text x="392.00" y="1026.30" font-size="21.2" fill="#000">λ: 450 nm</text>
</g>
<g id="panel-d">
<text x="564.80" y="30.50" font-size="43" font-weight="bold" fill="#000">d</text>
<g clip-path="url(#clipD)"><rect x="610" y="5" width="1216" height="813" fill="#080808"/><use href="#lat"/></g>
<rect x="610" y="5" width="250" height="813" fill="url(#gLeft)"/>
<g fill="#fff" fill-opacity="0.25" stroke="#fff" stroke-opacity="0.5" stroke-width="2" filter="url(#bSp)"><circle cx="1111.5" cy="179" r="3.8"/><circle cx="1074" cy="235" r="4"/><circle cx="1118.3" cy="204.5" r="2.6"/><circle cx="1033" cy="243.7" r="4" stroke-opacity="0.25"/></g>
<rect x="634.3" y="41.6" width="91.7" height="8.6" fill="#fff"/>
<rect x="1013.3" y="121.8" width="171.10000000000014" height="170.59999999999997" fill="none" stroke="#e60012" stroke-width="2"/>
<g clip-path="url(#clipI1)"><rect x="1534.4" y="31.7" width="278.89999999999986" height="278.0" fill="#080808"/><use href="#lat2" transform="translate(-119.82 -162.84) scale(1.6300)"/></g>
<g clip-path="url(#clipI2)"><g filter="url(#blurTIE)"><rect x="1504.4" y="294.2" width="338.89999999999986" height="338.2" fill="#080808"/><use href="#lat2" transform="translate(-119.82 131.66) scale(1.6300)"/></g></g>
<g fill="#fff" fill-opacity="0.12" stroke="#fff" stroke-opacity="0.42" stroke-width="3.4" filter="url(#bSp3)"><circle cx="1688.4" cy="130" r="6.5"/><circle cx="1632.5" cy="215.6" r="7"/><circle cx="1698.7" cy="167.6" r="4.5" stroke-opacity="0.3"/><circle cx="1568.5" cy="229.3" r="6.5" stroke-opacity="0.22"/><circle cx="1687.3" cy="96.8" r="4.5" stroke-opacity="0.18"/></g>
<g fill="#fff" fill-opacity="0.3" filter="url(#bSp2)"><circle cx="1687.3" cy="426.5" r="8"/><circle cx="1634.8" cy="511" r="9"/></g>
<rect x="1534.4" y="31.7" width="278.89999999999986" height="278.0" fill="none" stroke="#e60012" stroke-width="2"/>
<rect x="1534.4" y="324.2" width="278.89999999999986" height="278.2" fill="none" stroke="#fff100" stroke-width="2"/>
<text x="1672.60" y="288.80" font-size="29" font-weight="bold" text-anchor="middle" fill="#fff">MTFM-Phase</text>
<text x="1673.00" y="581.40" font-size="29" font-weight="bold" text-anchor="middle" fill="#fff">TIE-Phase</text>
<rect x="641.2" y="605.9" width="31.6" height="186.2" fill="url(#gDcb)" stroke="#d0d0d0" stroke-width="1.2"/>
<text x="687.30" y="634.80" font-size="29" font-weight="bold" fill="#fff">1.7 rad</text>
<text x="687.30" y="785.50" font-size="29" font-weight="bold" fill="#fff">0</text>
<rect x="1197.6" y="652.2" width="615.0" height="151.5999999999999" fill="#fff" stroke="#000" stroke-width="2.4"/>
<path d="M1283.0,681.0C1293.3,682.0 1322.1,685.1 1344.4,687.1C1366.7,689.2 1398.6,691.7 1416.6,693.3C1434.7,694.9 1440.7,695.5 1452.7,696.9C1464.7,698.3 1476.8,699.9 1488.8,701.6C1500.8,703.3 1512.9,704.9 1524.9,707.0C1536.9,709.1 1549.0,711.6 1561.0,714.2C1573.0,716.8 1585.1,719.5 1597.1,722.5C1609.1,725.5 1621.2,728.8 1633.2,732.3C1645.2,735.7 1657.3,739.5 1669.3,743.1C1681.3,746.7 1693.4,750.4 1705.4,753.9C1717.4,757.4 1731.3,761.2 1741.5,764.0C1751.7,766.9 1759.0,768.9 1766.8,770.9C1774.6,772.9 1784.8,775.4 1788.4,776.3" fill="none" stroke="#0072bd" stroke-width="1.7"/>
<path d="M1283.0,672.7C1293.3,673.7 1322.1,676.1 1344.4,678.5C1366.7,680.9 1392.5,684.3 1416.6,687.1C1440.7,690.0 1464.7,692.6 1488.8,695.5C1512.9,698.3 1543.0,702.1 1561.0,704.5C1579.1,706.9 1585.1,707.8 1597.1,709.9C1609.1,711.9 1621.2,714.2 1633.2,716.8C1645.2,719.3 1657.3,721.9 1669.3,725.1C1681.3,728.2 1693.4,731.7 1705.4,735.9C1717.4,740.1 1731.9,746.1 1741.5,750.3C1751.1,754.5 1757.2,758.0 1763.2,761.2C1769.2,764.3 1773.4,766.6 1777.6,769.1C1781.8,771.6 1786.6,775.1 1788.4,776.3" fill="none" stroke="#ff0000" stroke-width="1.7"/>
<rect x="1283.0" y="668.0" width="505.4000000000001" height="108.70000000000005" fill="none" stroke="#000" stroke-width="1.7"/>
<text x="1268.50" y="676.30" font-size="20.5" text-anchor="end" fill="#000">260</text>
<text x="1268.50" y="784.00" font-size="20.5" text-anchor="end" fill="#000">0</text>
<text x="1283.30" y="797.30" font-size="20.5" text-anchor="middle" fill="#000">0</text>
<text x="1788.30" y="797.30" font-size="20.5" text-anchor="middle" fill="#000">13</text>
<text x="1535.80" y="797.30" font-size="20.5" text-anchor="middle" fill="#000">x (μm)</text>
<text x="1218.80" y="722.30" font-size="20.5" text-anchor="middle" fill="#000" transform="rotate(-90 1218.80 722.30)">Height (nm)</text>
<line x1="1305.8" y1="726" x2="1331.2" y2="726" stroke="#ff0000" stroke-width="1.7"/>
<text x="1340.30" y="731.60" font-size="20.5" fill="#000">AFM</text>
<line x1="1305.8" y1="753" x2="1331.2" y2="753" stroke="#0072bd" stroke-width="1.7"/>
<text x="1340.30" y="760.00" font-size="20.5" fill="#000">Phase-based</text>
</g>
<g id="panel-e">
<text x="564.30" y="937.20" font-size="44.5" font-weight="bold" fill="#231815">e</text>
<text x="605.00" y="938.90" font-size="29.3" font-weight="bold" fill="#000">MTFM-Phase</text>
<text x="979.20" y="938.90" font-size="29.3" font-weight="bold" fill="#000">TIE-Phase</text>
<g transform="translate(601.0 952.2)" clip-path="url(#clipE)"><rect width="370.6" height="370.6" fill="url(#gEbg)"/><g opacity="0.3"><g filter="url(#bHalo)" fill="#000"><rect x="66" y="88" width="98" height="250"/><rect x="178" y="88" width="152" height="250"/><rect x="105" y="12" width="70" height="70"/><rect x="252" y="12" width="70" height="70"/></g></g><g filter="url(#bE3)" opacity="0.85" stroke="#000" stroke-width="9" stroke-linejoin="round" fill="#000"><use href="#usaf"/><use href="#usafn"/></g><g filter="url(#bE1)"><use href="#usaf"/><use href="#usafn" fill="#d0d0d0" stroke="#161616" stroke-width="2.2"/></g></g>
<g transform="translate(979.6 953.0)" clip-path="url(#clipE)"><rect width="370.6" height="370.6" fill="#222222"/><g opacity="0.85"><g filter="url(#bHalo)" fill="#000"><rect x="50" y="70" width="300" height="285"/><rect x="95" y="0" width="90" height="80"/><rect x="245" y="0" width="90" height="80"/></g></g><g filter="url(#bE2)" opacity="0.9"><use href="#usaf"/><use href="#usafn" fill="#d8d8d8" stroke="#080808" stroke-width="1.2"/></g></g>
<rect x="916.2" y="1304.0" width="36.2" height="5.0" fill="#fff"/>
<rect x="1294.0" y="1304.0" width="36.2" height="5.0" fill="#fff"/>
<rect x="624.3" y="1337.3" width="140.3" height="18.6" fill="url(#gEcb)" stroke="#000" stroke-width="1"/>
<text x="602.50" y="1356.50" font-size="29" font-weight="bold" fill="#231815">0</text>
<text x="780.50" y="1356.50" font-size="29" font-weight="bold" fill="#231815">1.5 rad</text>
</g>
<g id="panel-f">
<text x="1393.70" y="936.80" font-size="43" font-weight="bold" fill="#231815">f</text>
<path d="M1451.4,1085.2C1451.9,1082.4 1453.5,1080.1 1454.8,1068.4C1456.0,1056.6 1457.6,1027.3 1459.1,1014.5C1460.7,1001.7 1462.7,991.6 1464.2,991.6C1465.7,991.6 1466.8,1002.8 1468.2,1014.5C1469.6,1026.2 1471.4,1051.9 1472.6,1061.6C1473.8,1071.3 1474.3,1073.3 1475.3,1072.7C1476.3,1072.2 1477.4,1068.0 1478.7,1058.3C1479.9,1048.5 1481.4,1024.4 1482.7,1014.5C1484.0,1004.5 1485.4,997.5 1486.7,998.7C1488.0,999.8 1489.2,1011.0 1490.4,1021.2C1491.7,1031.4 1493.4,1052.3 1494.5,1059.9C1495.6,1067.6 1496.2,1069.3 1497.2,1067.3C1498.1,1065.4 1499.1,1058.1 1500.2,1048.2C1501.3,1038.2 1502.6,1017.1 1503.9,1007.7C1505.2,998.4 1506.7,991.7 1508.0,992.3C1509.2,992.8 1509.9,1002.4 1511.3,1011.1C1512.7,1019.9 1514.7,1035.2 1516.4,1044.8C1518.1,1054.3 1519.8,1061.1 1521.4,1068.4C1523.0,1075.7 1524.5,1088.6 1525.8,1088.6C1527.1,1088.6 1527.9,1079.6 1529.2,1068.4C1530.4,1057.1 1531.8,1032.8 1533.2,1021.2C1534.6,1009.6 1536.3,998.7 1537.6,998.7C1538.9,998.7 1539.7,1011.3 1540.9,1021.2C1542.2,1031.2 1543.9,1051.0 1545.0,1058.3C1546.1,1065.6 1546.4,1067.2 1547.3,1065.0C1548.3,1062.7 1549.6,1053.8 1550.7,1044.8C1551.8,1035.8 1553.0,1019.1 1554.1,1011.1C1555.2,1003.1 1556.4,995.5 1557.4,996.6C1558.5,997.8 1559.4,1008.1 1560.5,1017.8C1561.5,1027.6 1562.9,1046.9 1563.8,1054.9C1564.8,1062.9 1565.2,1067.3 1566.2,1065.7C1567.2,1064.0 1568.4,1053.9 1569.6,1044.8C1570.7,1035.7 1571.8,1018.8 1572.9,1011.1C1574.1,1003.4 1575.2,997.5 1576.3,998.7C1577.4,999.8 1577.9,1007.4 1579.3,1017.8C1580.7,1028.3 1583.0,1051.8 1584.7,1061.6C1586.4,1071.4 1588.1,1077.9 1589.4,1076.8C1590.8,1075.7 1591.6,1067.0 1592.8,1054.9C1594.0,1042.8 1595.2,1016.4 1596.5,1004.4C1597.8,992.3 1599.4,982.5 1600.5,982.5C1601.7,982.5 1602.5,994.6 1603.6,1004.4C1604.6,1014.2 1606.0,1034.0 1606.9,1041.4C1607.8,1048.9 1608.2,1050.3 1609.0,1049.2C1609.8,1048.0 1610.7,1042.7 1611.7,1034.7C1612.6,1026.7 1613.7,1009.2 1614.7,1001.0C1615.7,992.9 1616.8,984.7 1617.7,985.9C1618.7,987.0 1619.3,997.4 1620.4,1007.7C1621.5,1018.1 1623.2,1040.5 1624.1,1048.2C1625.1,1055.8 1625.4,1055.6 1626.1,1053.9C1626.9,1052.2 1627.9,1045.7 1628.8,1038.1C1629.8,1030.4 1630.9,1014.9 1631.9,1007.7C1632.9,1000.6 1633.9,993.8 1634.9,995.0C1635.9,996.1 1636.5,1003.9 1637.9,1014.5C1639.3,1025.0 1641.6,1047.9 1643.3,1058.3C1645.1,1068.6 1647.0,1077.9 1648.4,1076.8C1649.8,1075.7 1650.6,1063.6 1651.7,1051.5C1652.9,1039.5 1654.0,1015.9 1655.1,1004.4C1656.2,992.9 1657.5,983.1 1658.5,982.5C1659.4,981.9 1659.9,991.8 1660.8,1001.0C1661.8,1010.3 1663.3,1030.8 1664.2,1038.1C1665.1,1045.3 1665.5,1045.9 1666.2,1044.8C1666.9,1043.7 1667.7,1038.6 1668.6,1031.3C1669.4,1024.0 1670.4,1008.0 1671.3,1001.0C1672.2,994.0 1673.1,988.1 1674.0,989.2C1674.8,990.4 1675.4,999.1 1676.3,1007.7C1677.3,1016.4 1678.8,1035.1 1679.7,1041.4C1680.6,1047.8 1681.0,1046.9 1681.7,1045.8C1682.4,1044.7 1683.2,1040.5 1684.1,1034.7C1684.9,1028.9 1685.8,1016.4 1686.7,1011.1C1687.6,1005.8 1688.5,1001.6 1689.4,1002.7C1690.3,1003.8 1691.0,1008.0 1692.1,1017.8C1693.3,1027.7 1695.1,1051.6 1696.5,1061.6C1698.0,1071.6 1699.6,1079.5 1700.9,1077.8C1702.2,1076.1 1703.1,1063.2 1704.3,1051.5C1705.4,1039.8 1706.5,1018.2 1707.6,1007.7C1708.7,997.3 1710.0,989.1 1711.0,988.6C1711.9,988.0 1712.4,997.5 1713.3,1004.4C1714.2,1011.2 1715.5,1024.6 1716.4,1029.6C1717.2,1034.7 1717.7,1035.5 1718.4,1034.7C1719.1,1033.8 1719.6,1030.5 1720.4,1024.6C1721.2,1018.7 1722.3,1004.8 1723.1,999.3C1724.0,993.8 1724.7,990.2 1725.5,991.6C1726.3,993.0 1727.0,1000.6 1727.8,1007.7C1728.7,1014.9 1729.7,1029.2 1730.5,1034.7C1731.3,1040.2 1731.8,1041.3 1732.5,1040.7C1733.3,1040.2 1734.1,1036.3 1734.9,1031.3C1735.7,1026.4 1736.7,1015.5 1737.6,1011.1C1738.5,1006.7 1739.4,1003.0 1740.3,1004.7C1741.2,1006.4 1741.9,1011.2 1743.0,1021.2C1744.1,1031.3 1745.8,1054.7 1747.0,1065.0C1748.3,1075.3 1749.4,1084.0 1750.4,1082.8C1751.4,1081.7 1752.1,1069.1 1753.1,1058.3C1754.1,1047.4 1755.3,1027.1 1756.4,1017.8C1757.6,1008.6 1758.9,1003.8 1759.8,1002.7C1760.8,1001.6 1761.4,1007.5 1762.2,1011.1C1763.0,1014.8 1763.9,1021.8 1764.5,1024.6C1765.2,1027.4 1765.6,1028.5 1766.2,1028.0C1766.8,1027.4 1767.5,1024.3 1768.2,1021.2C1769.0,1018.1 1769.9,1012.0 1770.6,1009.4C1771.3,1006.9 1771.9,1004.3 1772.6,1005.7C1773.3,1007.1 1774.1,1013.0 1775.0,1017.8C1775.9,1022.7 1777.2,1031.2 1778.0,1034.7C1778.8,1038.2 1779.3,1039.3 1780.0,1038.7C1780.7,1038.2 1781.6,1034.5 1782.4,1031.3C1783.1,1028.1 1783.7,1022.1 1784.4,1019.5C1785.1,1017.0 1785.7,1013.9 1786.4,1015.8C1787.1,1017.8 1787.8,1022.6 1788.4,1031.3C1789.1,1040.1 1789.8,1059.3 1790.5,1068.4C1791.1,1077.4 1791.7,1085.9 1792.5,1085.9C1793.2,1085.9 1793.9,1076.9 1794.8,1068.4C1795.8,1059.8 1796.9,1042.5 1798.2,1034.7C1799.5,1026.8 1801.0,1022.6 1802.6,1021.2C1804.1,1019.8 1805.8,1026.0 1807.6,1026.3C1809.4,1026.5 1811.7,1022.3 1813.4,1022.9C1815.0,1023.5 1816.4,1027.8 1817.7,1029.6C1819.0,1031.5 1819.9,1034.2 1821.1,1034.0C1822.3,1033.8 1824.0,1028.0 1825.1,1028.6C1826.3,1029.3 1826.8,1032.6 1827.8,1038.1C1828.8,1043.6 1830.2,1061.1 1831.2,1061.6C1832.2,1062.2 1832.9,1048.4 1833.9,1041.4C1834.9,1034.4 1836.0,1024.5 1837.3,1019.5C1838.5,1014.6 1839.8,1012.4 1841.3,1011.8C1842.8,1011.2 1844.7,1015.4 1846.3,1016.2C1848.0,1016.9 1849.4,1014.8 1851.4,1016.2C1853.4,1017.6 1856.3,1020.9 1858.1,1024.6C1859.9,1028.2 1861.0,1033.7 1862.2,1038.1C1863.4,1042.4 1864.7,1048.4 1865.2,1050.5" fill="none" stroke="#0072bd" stroke-width="1.85" stroke-linejoin="round"/>
<path d="M1451.4,1277.8C1452.1,1274.9 1454.2,1269.9 1455.8,1260.3C1457.3,1250.6 1459.0,1233.0 1460.8,1219.9C1462.6,1206.7 1465.1,1184.3 1466.5,1181.5C1468.0,1178.7 1468.4,1190.5 1469.6,1203.0C1470.7,1215.6 1472.2,1246.1 1473.3,1256.9C1474.3,1267.7 1475.1,1268.3 1476.0,1267.7C1476.9,1267.1 1477.6,1263.8 1478.7,1253.5C1479.7,1243.3 1481.0,1217.2 1482.0,1206.4C1483.1,1195.6 1484.1,1188.0 1485.1,1188.6C1486.0,1189.1 1486.6,1197.3 1487.7,1209.8C1488.9,1222.3 1490.9,1253.2 1492.1,1263.7C1493.3,1274.1 1493.9,1274.1 1494.8,1272.4C1495.7,1270.7 1496.4,1265.1 1497.5,1253.5C1498.6,1242.0 1500.0,1214.1 1501.2,1203.0C1502.4,1192.0 1503.6,1187.2 1504.6,1187.2C1505.6,1187.2 1506.2,1193.1 1507.3,1203.0C1508.4,1213.0 1510.2,1233.9 1511.3,1246.8C1512.4,1259.7 1513.2,1273.2 1514.0,1280.5C1514.9,1287.8 1515.4,1289.4 1516.4,1290.6C1517.3,1291.8 1518.3,1288.5 1519.7,1287.9C1521.1,1287.3 1523.4,1291.3 1524.8,1287.2C1526.2,1283.2 1526.9,1276.0 1528.2,1263.7C1529.4,1251.3 1531.0,1223.8 1532.2,1213.1C1533.4,1202.5 1534.6,1199.1 1535.6,1199.7C1536.6,1200.2 1537.2,1206.4 1538.3,1216.5C1539.3,1226.6 1540.9,1251.7 1542.0,1260.3C1543.0,1268.9 1543.5,1269.2 1544.3,1268.0C1545.1,1266.9 1545.7,1263.3 1546.7,1253.5C1547.6,1243.8 1549.0,1219.3 1550.0,1209.8C1551.1,1200.2 1551.9,1195.7 1552.7,1196.3C1553.6,1196.9 1554.1,1201.9 1555.1,1213.1C1556.1,1224.4 1557.8,1253.8 1558.8,1263.7C1559.8,1273.5 1560.3,1273.8 1561.2,1272.1C1562.0,1270.4 1562.8,1264.5 1563.8,1253.5C1564.9,1242.6 1566.2,1216.2 1567.2,1206.4C1568.2,1196.6 1569.0,1193.5 1569.9,1194.6C1570.8,1195.7 1571.4,1200.5 1572.6,1213.1C1573.8,1225.8 1575.5,1257.6 1577.0,1270.4C1578.4,1283.2 1580.0,1287.4 1581.4,1289.9C1582.8,1292.4 1584.0,1285.5 1585.4,1285.5C1586.7,1285.5 1588.2,1293.0 1589.4,1289.9C1590.7,1286.8 1591.6,1279.8 1592.8,1267.0C1594.0,1254.2 1595.6,1224.5 1596.8,1213.1C1598.1,1201.8 1599.3,1199.0 1600.2,1199.0C1601.2,1199.0 1601.6,1204.1 1602.6,1213.1C1603.5,1222.2 1605.0,1245.7 1605.9,1253.5C1606.8,1261.4 1607.2,1261.4 1608.0,1260.3C1608.7,1259.2 1609.5,1255.2 1610.3,1246.8C1611.2,1238.4 1612.2,1217.4 1613.0,1209.8C1613.8,1202.2 1614.6,1200.2 1615.4,1201.4C1616.1,1202.5 1616.8,1206.1 1617.7,1216.5C1618.7,1226.9 1620.2,1254.7 1621.1,1263.7C1622.0,1272.6 1622.4,1272.1 1623.1,1270.4C1623.8,1268.7 1624.6,1263.7 1625.5,1253.5C1626.3,1243.4 1627.3,1218.6 1628.2,1209.8C1629.0,1201.0 1629.7,1199.6 1630.5,1200.7C1631.3,1201.8 1631.7,1204.3 1632.9,1216.5C1634.1,1228.7 1636.1,1261.5 1637.6,1273.8C1639.1,1286.0 1640.6,1288.4 1642.0,1289.9C1643.3,1291.4 1644.3,1282.8 1645.7,1282.8C1647.0,1282.8 1648.8,1293.1 1650.0,1289.9C1651.3,1286.7 1652.3,1275.9 1653.4,1263.7C1654.5,1251.4 1655.7,1226.4 1656.8,1216.5C1657.8,1206.6 1658.9,1203.5 1659.8,1204.1C1660.7,1204.6 1661.3,1212.8 1662.2,1219.9C1663.1,1227.0 1664.4,1241.7 1665.2,1246.8C1666.0,1252.0 1666.3,1252.0 1666.9,1250.9C1667.5,1249.7 1668.1,1246.9 1668.9,1240.1C1669.7,1233.2 1670.8,1215.7 1671.6,1209.8C1672.4,1203.9 1672.9,1203.0 1673.6,1204.7C1674.3,1206.4 1675.1,1211.7 1676.0,1219.9C1676.9,1228.0 1678.2,1247.1 1679.0,1253.5C1679.8,1260.0 1680.1,1259.7 1680.7,1258.6C1681.3,1257.5 1681.9,1254.7 1682.7,1246.8C1683.5,1239.0 1684.6,1218.5 1685.4,1211.5C1686.2,1204.4 1686.7,1202.8 1687.4,1204.7C1688.1,1206.7 1688.7,1211.7 1689.8,1223.2C1690.8,1234.7 1692.7,1263.8 1693.8,1273.8C1694.9,1283.7 1695.6,1282.7 1696.5,1283.2C1697.4,1283.6 1698.4,1277.8 1699.2,1276.4C1700.0,1275.0 1700.8,1273.5 1701.6,1274.8C1702.3,1276.0 1703.1,1281.3 1703.9,1283.9C1704.7,1286.4 1705.4,1292.7 1706.3,1289.9C1707.1,1287.1 1708.0,1279.3 1709.0,1267.0C1710.0,1254.8 1711.3,1227.1 1712.3,1216.5C1713.4,1205.9 1714.5,1203.4 1715.4,1203.4C1716.3,1203.4 1716.9,1211.2 1717.7,1216.5C1718.5,1221.8 1719.4,1231.5 1720.1,1235.0C1720.8,1238.6 1721.1,1238.8 1721.8,1237.7C1722.4,1236.6 1723.1,1233.0 1723.8,1228.3C1724.5,1223.6 1725.5,1213.4 1726.1,1209.8C1726.8,1206.1 1727.2,1204.2 1727.8,1206.4C1728.5,1208.7 1729.3,1217.1 1730.2,1223.2C1731.0,1229.4 1732.2,1239.5 1732.9,1243.4C1733.5,1247.4 1733.7,1247.9 1734.2,1246.8C1734.8,1245.7 1735.5,1241.8 1736.2,1236.7C1737.0,1231.7 1737.9,1220.3 1738.6,1216.5C1739.3,1212.7 1739.6,1211.6 1740.3,1213.8C1741.0,1216.1 1741.7,1220.0 1743.0,1230.0C1744.2,1240.0 1745.9,1263.7 1747.7,1273.8C1749.5,1283.9 1752.2,1292.3 1753.8,1290.6C1755.3,1288.9 1756.0,1274.9 1757.1,1263.7C1758.2,1252.4 1759.4,1231.5 1760.5,1223.2C1761.6,1215.0 1762.6,1214.4 1763.5,1214.2C1764.4,1213.9 1765.1,1219.0 1765.9,1221.6C1766.7,1224.1 1767.6,1227.9 1768.2,1229.3C1768.8,1230.7 1769.0,1231.0 1769.6,1230.0C1770.1,1229.0 1770.9,1225.5 1771.6,1223.2C1772.3,1221.0 1773.1,1217.8 1773.6,1216.5C1774.2,1215.2 1774.3,1214.1 1775.0,1215.5C1775.6,1216.9 1776.5,1221.4 1777.3,1224.9C1778.2,1228.5 1779.3,1234.6 1780.0,1236.7C1780.7,1238.8 1780.8,1238.6 1781.4,1237.7C1781.9,1236.9 1782.7,1233.8 1783.4,1231.7C1784.1,1229.5 1784.8,1226.2 1785.4,1224.9C1786.0,1223.6 1786.1,1221.4 1786.8,1223.9C1787.4,1226.4 1788.3,1232.9 1789.1,1240.1C1789.9,1247.3 1791.1,1261.8 1791.8,1267.0C1792.5,1272.2 1792.8,1274.2 1793.5,1271.4C1794.2,1268.6 1794.9,1258.8 1795.8,1250.2C1796.7,1241.6 1797.9,1226.1 1798.9,1219.9C1799.9,1213.7 1800.8,1213.4 1801.9,1213.1C1803.0,1212.9 1804.0,1216.5 1805.3,1218.2C1806.5,1219.9 1807.8,1222.1 1809.3,1223.2C1810.8,1224.4 1813.0,1223.8 1814.4,1224.9C1815.8,1226.1 1816.5,1229.1 1817.7,1230.0C1819.0,1230.8 1820.5,1226.6 1821.8,1230.0C1823.0,1233.3 1824.0,1242.3 1825.1,1250.2C1826.3,1258.0 1827.5,1270.4 1828.5,1277.1C1829.5,1283.9 1830.3,1294.0 1831.2,1290.6C1832.1,1287.2 1832.9,1269.8 1833.9,1256.9C1834.9,1244.0 1836.0,1222.4 1837.3,1213.1C1838.5,1203.9 1840.1,1203.0 1841.3,1201.4C1842.5,1199.7 1843.5,1202.2 1844.7,1203.0C1845.8,1203.9 1846.9,1206.4 1848.0,1206.4C1849.2,1206.4 1850.3,1204.0 1851.4,1203.0C1852.5,1202.1 1853.6,1197.9 1854.8,1200.7C1855.9,1203.5 1857.0,1212.8 1858.1,1219.9C1859.3,1227.0 1860.5,1238.3 1861.5,1243.4C1862.5,1248.6 1863.7,1249.6 1864.2,1250.9" fill="none" stroke="#0072bd" stroke-width="1.85" stroke-linejoin="round"/>
<rect x="1451.4" y="978.1" width="413.79999999999995" height="122.19999999999993" fill="none" stroke="#000" stroke-width="1.5"/>
<rect x="1451.4" y="1168.0" width="413.79999999999995" height="122.59999999999991" fill="none" stroke="#000" stroke-width="1.5"/>
<text x="1852.07" y="974.58" font-size="20.5" text-anchor="end" fill="#000">Horizontal</text>
<text x="1444.65" y="984.85" font-size="20.5" text-anchor="end" fill="#000">75</text>
<text x="1444.65" y="1106.07" font-size="20.5" text-anchor="end" fill="#000">0</text>
<text x="1451.72" y="1120.55" font-size="20.5" text-anchor="middle" fill="#000">0</text>
<text x="1866.22" y="1120.55" font-size="20.5" text-anchor="middle" fill="#000">36</text>
<text x="1657.12" y="1134.69" font-size="23.2" text-anchor="middle" fill="#000">x (μm)</text>
<text x="1411.99" y="1036.37" font-size="20.5" text-anchor="middle" fill="#000" transform="rotate(-90 1411.99 1036.37)">Height (nm)</text>
<text x="1472.60" y="1096.98" font-size="20.5" fill="#231815">9-1</text>
<text x="1544.99" y="1096.98" font-size="20.5" fill="#231815">9-2</text>
<text x="1603.91" y="1096.98" font-size="20.5" fill="#231815">9-3</text>
<text x="1659.47" y="1096.98" font-size="20.5" fill="#231815">9-4</text>
<text x="1709.98" y="1096.98" font-size="20.5" fill="#231815">9-5</text>
<text x="1753.75" y="1096.98" font-size="20.5" fill="#231815">9-6</text>
<text x="1821.10" y="1096.98" font-size="20.5" fill="#231815">10-2</text>
<text x="1791.46" y="1008.42" font-size="20.5" fill="#231815">10-1</text>
<text x="1852.07" y="1161.96" font-size="20.5" text-anchor="end" fill="#000">Longitudinal</text>
<text x="1444.65" y="1174.42" font-size="20.5" text-anchor="end" fill="#000">75</text>
<text x="1444.65" y="1297.32" font-size="20.5" text-anchor="end" fill="#000">0</text>
<text x="1451.72" y="1313.48" font-size="20.5" text-anchor="middle" fill="#000">0</text>
<text x="1864.19" y="1313.48" font-size="20.5" text-anchor="middle" fill="#000">41</text>
<text x="1658.13" y="1335.37" font-size="20.5" text-anchor="middle" fill="#000">x (μm)</text>
<text x="1411.99" y="1227.62" font-size="20.5" text-anchor="middle" fill="#000" transform="rotate(-90 1411.99 1227.62)">Height (nm)</text>
<text x="1471.59" y="1187.89" font-size="20.5" fill="#231815">9-1</text>
<text x="1538.93" y="1187.89" font-size="20.5" fill="#231815">9-2</text>
<text x="1597.18" y="1187.89" font-size="20.5" fill="#231815">9-3</text>
<text x="1658.13" y="1187.89" font-size="20.5" fill="#231815">9-4</text>
<text x="1714.02" y="1187.89" font-size="20.5" fill="#231815">9-5</text>
<text x="1758.80" y="1187.89" font-size="20.5" fill="#231815">9-6</text>
<text x="1820.42" y="1187.89" font-size="20.5" fill="#231815">10-2</text>
<text x="1789.11" y="1209.10" font-size="20.5" fill="#231815">10-1</text>
</g>
</svg>
</body></html>
